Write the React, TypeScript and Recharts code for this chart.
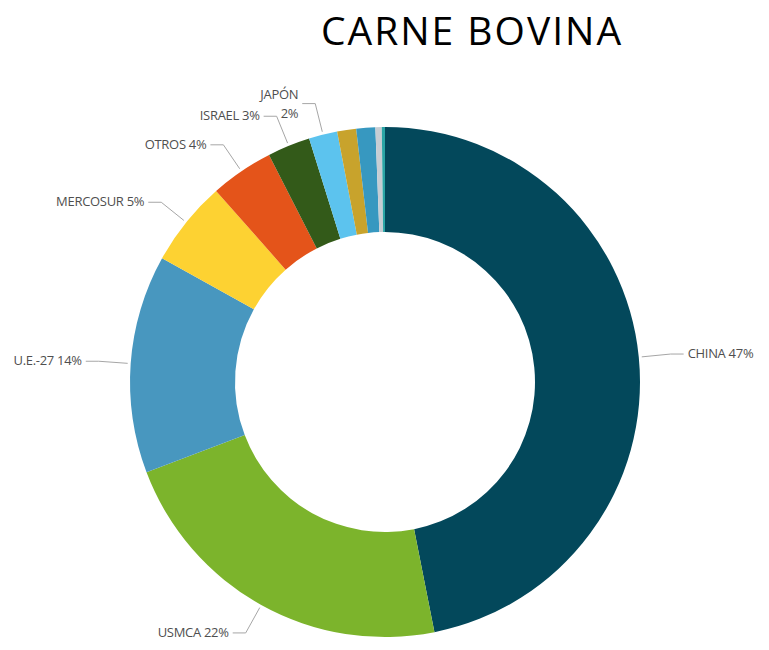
import React from 'react';
import { PieChart, Pie, Cell } from 'recharts';

// destinos de exportación, en el orden de las agujas del reloj desde arriba
const destinos = ['CHINA', 'USMCA', 'U.E.-27', 'MERCOSUR', 'OTROS', 'ISRAEL', 'JAPÓN', 'COREA', 'TAIWÁN', 'CHILE', 'RUSIA'];
const participacion = [46.8, 22.3, 13.8, 5.4, 4.0, 2.7, 1.8, 1.2, 1.2, 0.4, 0.2];
const colores = ['#03485B', '#7CB42C', '#4897BF', '#FDD232', '#E4541A', '#335A19', '#5CC3EE', '#C8A32C', '#3798C0', '#C6CDD3', '#2AA5A5'];

const data = destinos.map((name, i) => ({ name, value: participacion[i] }));

const RADIAN = Math.PI / 180;

const renderLabel = (props: any) => {
  const { cx, cy, midAngle, outerRadius, percent, name } = props;
  // slices under 1.5% get no label, like the original
  if (percent < 0.015) return null;
  const cos = Math.cos(-midAngle * RADIAN);
  const sin = Math.sin(-midAngle * RADIAN);
  const sx = cx + (outerRadius + 3) * cos;
  const sy = cy + (outerRadius + 3) * sin;
  const mx = cx + (outerRadius + 32) * cos;
  const my = cy + (outerRadius + 32) * sin;
  const right = cos >= 0;
  const ex = mx + (right ? 1 : -1) * 13;
  const tx = ex + (right ? 1 : -1) * 4;
  const pct = `${Math.round(percent * 100)}%`;
  const twoLines = name === 'JAPÓN';
  const textStyle = {
    fill: '#4f4f4f',
    fontSize: 13,
    fontFamily: "'Open Sans', sans-serif",
    letterSpacing: -0.3,
  };

  return (
    <g>
      <path d={`M${sx},${sy}L${mx},${my}L${ex},${my}`} stroke="#a6a6a6" strokeWidth={1} fill="none" />
      {twoLines ? (
        <text x={tx} y={my} textAnchor={right ? 'start' : 'end'} style={textStyle}>
          <tspan x={tx} dy={-5}>{name}</tspan>
          <tspan x={tx} dy={19}>{pct}</tspan>
        </text>
      ) : (
        <text x={tx} y={my} dy={4} textAnchor={right ? 'start' : 'end'} style={textStyle}>
          {`${name} ${pct}`}
        </text>
      )}
    </g>
  );
};

export default function App() {
  return (
    <div style={{ position: 'absolute', left: 0, top: 0, width: 769, height: 650, background: '#fff' }}>
      <div
        style={{
          position: 'absolute',
          left: 222,
          top: 3,
          width: 500,
          textAlign: 'center',
          fontFamily: "'Open Sans', sans-serif",
          fontSize: 39,
          letterSpacing: 2,
          color: '#000',
        }}
      >
        CARNE BOVINA
      </div>
      <PieChart width={769} height={650}>
        <Pie
          data={data}
          dataKey="value"
          nameKey="name"
          cx={380}
          cy={377}
          innerRadius={150}
          outerRadius={255}
          startAngle={90}
          endAngle={-270}
          stroke="none"
          label={renderLabel}
          labelLine={false}
          isAnimationActive={false}
        >
          {data.map((entry, index) => (
            <Cell key={`cell-${index}`} fill={colores[index]} />
          ))}
        </Pie>
      </PieChart>
    </div>
  );
}
